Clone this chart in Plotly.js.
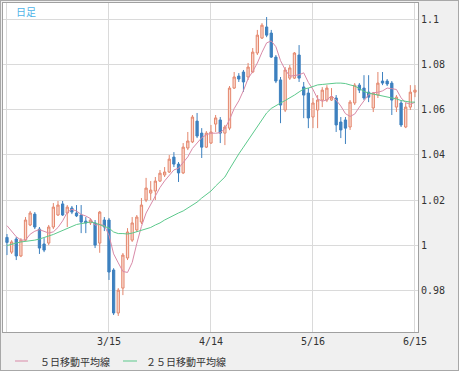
<!DOCTYPE html>
<html>
<head>
<meta charset="utf-8">
<script src="https://cdn.plot.ly/plotly-3.0.1.min.js"></script>
<style>
  html, body { margin: 0; padding: 0; background: #ffffff; }
  #wrap { position: absolute; left: 0; top: 0; width: 457px; height: 369px; border: 1px solid #a8a8a8; background: #f0f0f0; }
  #chart { width: 457px; height: 369px; }
</style>
</head>
<body>
<div id="wrap"><div id="chart"></div></div>
<script>
// Daily candles (index 0..88)
const opens = [1.0035,0.9970,1.0028,0.9953,1.0023,1.0090,1.0138,1.0072,1.0006,1.0010,
  1.0081,1.0134,1.0183,1.0143,1.0165,1.0143,1.0134,1.0107,1.0099,1.0099,
  1.0010,1.0112,1.0112,0.9891,0.9701,0.9811,0.9944,1.0023,1.0068,1.0103,
  1.0200,1.0231,1.0240,1.0284,1.0311,1.0324,1.0390,1.0359,1.0320,1.0430,
  1.0457,1.0549,1.0496,1.0434,1.0452,1.0536,1.0554,1.0496,1.0518,1.0695,
  1.0748,1.0766,1.0744,1.0766,1.0850,1.0916,1.0965,1.0938,1.0832,1.0731,
  1.0598,1.0739,1.0739,1.0841,1.0700,1.0673,1.0567,1.0598,1.0642,1.0642,
  1.0642,1.0651,1.0545,1.0554,1.0523,1.0629,1.0708,1.0695,1.0677,1.0607,
  1.0664,1.0726,1.0726,1.0717,1.0611,1.0629,1.0523,1.0611,1.0677];
const highs = [1.0050,1.0023,1.0037,1.0032,1.0125,1.0152,1.0147,1.0081,1.0032,1.0090,
  1.0187,1.0196,1.0196,1.0178,1.0174,1.0178,1.0178,1.0125,1.0120,1.0112,
  1.0152,1.0125,1.0121,0.9899,0.9811,0.9966,1.0076,1.0125,1.0134,1.0209,
  1.0298,1.0284,1.0302,1.0333,1.0346,1.0399,1.0412,1.0368,1.0452,1.0501,
  1.0576,1.0585,1.0518,1.0505,1.0532,1.0576,1.0567,1.0532,1.0704,1.0766,
  1.0761,1.0775,1.0806,1.0872,1.0952,1.0982,1.1009,1.0952,1.0841,1.0744,
  1.0788,1.0797,1.0854,1.0885,1.0722,1.0695,1.0651,1.0664,1.0699,1.0708,
  1.0695,1.0664,1.0567,1.0567,1.0642,1.0717,1.0717,1.0752,1.0752,1.0677,
  1.0766,1.0766,1.0735,1.0726,1.0664,1.0642,1.0629,1.0708,1.0708];
const lows = [0.9957,0.9962,0.9935,0.9948,1.0019,1.0085,1.0072,0.9962,0.9970,1.0001,
  1.0072,1.0130,1.0130,1.0081,1.0138,1.0125,1.0054,1.0054,1.0090,0.9988,
  0.9967,1.0063,0.9847,0.9692,0.9688,0.9780,0.9935,1.0015,1.0059,1.0094,
  1.0191,1.0200,1.0200,1.0280,1.0302,1.0320,1.0346,1.0280,1.0315,1.0421,
  1.0452,1.0474,1.0386,1.0430,1.0448,1.0501,1.0452,1.0443,1.0509,1.0691,
  1.0722,1.0678,1.0731,1.0761,1.0841,1.0912,1.0920,1.0828,1.0717,1.0540,
  1.0589,1.0731,1.0735,1.0722,1.0562,1.0518,1.0518,1.0518,1.0611,1.0633,
  1.0638,1.0501,1.0474,1.0448,1.0510,1.0620,1.0673,1.0642,1.0633,1.0589,
  1.0651,1.0708,1.0704,1.0576,1.0589,1.0523,1.0518,1.0598,1.0655];
const closes = [1.0013,1.0015,0.9953,1.0023,1.0112,1.0143,1.0081,0.9988,0.9979,1.0081,
  1.0169,1.0178,1.0134,1.0169,1.0147,1.0130,1.0103,1.0099,1.0112,1.0001,
  1.0147,1.0081,0.9882,0.9701,0.9802,0.9957,1.0059,1.0099,1.0125,1.0178,
  1.0253,1.0244,1.0284,1.0319,1.0324,1.0381,1.0359,1.0320,1.0434,1.0461,
  1.0567,1.0483,1.0434,1.0496,1.0501,1.0563,1.0496,1.0523,1.0695,1.0744,
  1.0735,1.0722,1.0788,1.0854,1.0929,1.0973,1.0929,1.0832,1.0726,1.0620,
  1.0775,1.0784,1.0850,1.0739,1.0664,1.0563,1.0629,1.0642,1.0686,1.0695,
  1.0655,1.0532,1.0510,1.0518,1.0633,1.0708,1.0686,1.0651,1.0655,1.0673,
  1.0717,1.0717,1.0713,1.0642,1.0655,1.0532,1.0611,1.0677,1.0686];
// the four closes just before the visible window (estimated), needed for the 5-day average
const priorCloses = [1.0150,1.0063,1.0096,1.0113];
// 25-day moving average
const ma25 = [0.9999,1.0006,1.0010,1.0015,1.0017,1.0019,1.0023,1.0028,1.0034,1.0039,
  1.0048,1.0057,1.0065,1.0074,1.0083,1.0092,1.0096,1.0101,1.0103,1.0099,
  1.0092,1.0085,1.0076,1.0059,1.0052,1.0052,1.0050,1.0054,1.0061,1.0065,
  1.0072,1.0079,1.0090,1.0099,1.0112,1.0123,1.0134,1.0143,1.0152,1.0165,
  1.0178,1.0191,1.0209,1.0225,1.0240,1.0262,1.0282,1.0302,1.0337,1.0373,
  1.0404,1.0434,1.0465,1.0492,1.0527,1.0558,1.0585,1.0605,1.0618,1.0629,
  1.0640,1.0651,1.0664,1.0678,1.0691,1.0695,1.0702,1.0709,1.0711,1.0713,
  1.0717,1.0717,1.0717,1.0715,1.0709,1.0704,1.0693,1.0680,1.0673,1.0669,
  1.0664,1.0660,1.0656,1.0651,1.0647,1.0640,1.0636,1.0633,1.0633];
const tickIdx = [0, 22, 44, 66, 88];
const tickLabels = ['', '3/15', '4/14', '5/16', '6/15'];
const seriesNames = ['５日移動平均線', '２５日移動平均線'];
const chartLabel = '日足';

const idx = closes.map((_, i) => i);
const allCloses = priorCloses.concat(closes);
const ma5 = closes.map((_, i) => {
  let s = 0;
  for (let k = 0; k < 5; k++) s += allCloses[i + priorCloses.length - k];
  return s / 5;
});

const C_UP_LINE = '#e4866c', C_UP_FILL = '#fadbd0', C_DN = '#3d80bf';
const C_MA5 = '#d98aa8', C_MA25 = '#5cc98c';

const traces = [
  { type: 'candlestick', x: idx, open: opens, high: highs, low: lows, close: closes,
    increasing: { line: { color: C_UP_LINE, width: 1 }, fillcolor: C_UP_FILL },
    decreasing: { line: { color: C_DN, width: 1 }, fillcolor: C_DN },
    whiskerwidth: 0, showlegend: false, hoverinfo: 'skip' },
  { type: 'scatter', mode: 'lines', x: idx, y: ma5, name: seriesNames[0],
    line: { color: C_MA5, width: 1 }, showlegend: false, hoverinfo: 'skip' },
  { type: 'scatter', mode: 'lines', x: idx, y: ma25, name: seriesNames[1],
    line: { color: C_MA25, width: 1 }, showlegend: false, hoverinfo: 'skip' }
];

const tickFont = { family: 'DejaVu Sans Mono, monospace', size: 10, color: '#333333' };
const legFont = { family: 'Noto Sans CJK JP, sans-serif', size: 10, color: '#333333' };

const PL = 3, PR = 418, PT = 3, PB = 332; // plot area on the page (for legend placement)
const px = v => (v - PL) / (PR - PL);
const py = v => (PB - v) / (PB - PT);

const layout = {
  width: 457, height: 369,
  margin: { l: 2, r: 40, t: 2, b: 38, pad: 0 },
  paper_bgcolor: '#f0f0f0', plot_bgcolor: '#ffffff',
  showlegend: false,
  xaxis: {
    range: [-0.86, 88.65], tickmode: 'array', tickvals: tickIdx, ticktext: tickLabels,
    showgrid: true, gridcolor: '#dadada', gridwidth: 1, zeroline: false,
    showline: true, linecolor: '#a0a0a0', linewidth: 1, mirror: true,
    ticks: '', tickfont: tickFont, rangeslider: { visible: false }, fixedrange: true
  },
  yaxis: {
    side: 'right', range: [0.9617, 1.1071], tick0: 0.98, dtick: 0.02,
    showgrid: true, gridcolor: '#dadada', gridwidth: 1, zeroline: false,
    showline: true, linecolor: '#a0a0a0', linewidth: 1, mirror: true,
    ticks: '', tickfont: tickFont, fixedrange: true
  },
  shapes: [
    { type: 'line', xref: 'paper', yref: 'paper', x0: px(15), x1: px(28), y0: py(361), y1: py(361),
      line: { color: C_MA5, width: 1 } },
    { type: 'line', xref: 'paper', yref: 'paper', x0: px(123), x1: px(137), y0: py(361), y1: py(361),
      line: { color: C_MA25, width: 1 } }
  ],
  annotations: [
    { xref: 'paper', yref: 'paper', x: px(14), y: py(11.5), xanchor: 'left', yanchor: 'middle',
      text: chartLabel, showarrow: false, font: { family: 'Noto Sans CJK JP, sans-serif', size: 10, color: '#4fb3e8' } },
    { xref: 'paper', yref: 'paper', x: px(38), y: py(361), xanchor: 'left', yanchor: 'middle',
      text: seriesNames[0], showarrow: false, font: legFont },
    { xref: 'paper', yref: 'paper', x: px(144), y: py(361), xanchor: 'left', yanchor: 'middle',
      text: seriesNames[1], showarrow: false, font: legFont }
  ]
};

Plotly.newPlot('chart', traces, layout, { staticPlot: true, displayModeBar: false });
</script>
</body>
</html>
